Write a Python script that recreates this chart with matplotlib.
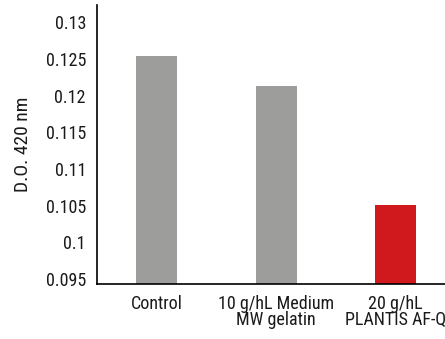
import matplotlib
matplotlib.use("Agg")
import matplotlib.pyplot as plt

categories = ["Control", "10 g/hL Medium\nMW gelatin", "20 g/hL\nPLANTIS AF-Q"]
values = [0.1254, 0.1213, 0.1051]
colors = ["#9D9D9C", "#9D9D9C", "#D0191C"]
yticks = [0.095, 0.1, 0.105, 0.11, 0.115, 0.12, 0.125, 0.13]
ytick_labels = ["0.095", "0.1", "0.105", "0.11", "0.115", "0.12", "0.125", "0.13"]

plt.rcParams['font.family'] = ['Roboto Condensed', 'DejaVu Sans']
plt.rcParams['font.weight'] = 'normal'

fig = plt.figure(figsize=(4.45, 3.39), dpi=100)
ax = fig.add_axes([97/445, 55/339, 348/445, 279/339])

x = list(range(len(categories)))
ax.bar(x, values, width=0.343, color=colors)

ax.set_ylim(0.09432, 0.13233)
ax.set_xlim(-0.5, 2.412)
ax.set_yticks(yticks)
ax.set_yticklabels(ytick_labels, fontsize=13, color="#1a1a1a")
ax.set_xticks(x)
ax.set_xticklabels(categories, fontsize=13, color="#1a1a1a", linespacing=0.85)
ax.tick_params(axis='y', length=0, pad=8)
ax.tick_params(axis='x', length=0, pad=8)

for s in ["top", "right"]:
    ax.spines[s].set_visible(False)
for s in ["left", "bottom"]:
    ax.spines[s].set_linewidth(1.2)
    ax.spines[s].set_color("black")

ax.set_ylabel("D.O. 420 nm", fontsize=14, color="#1a1a1a", labelpad=10)

fig.savefig("out.png", dpi=100)
